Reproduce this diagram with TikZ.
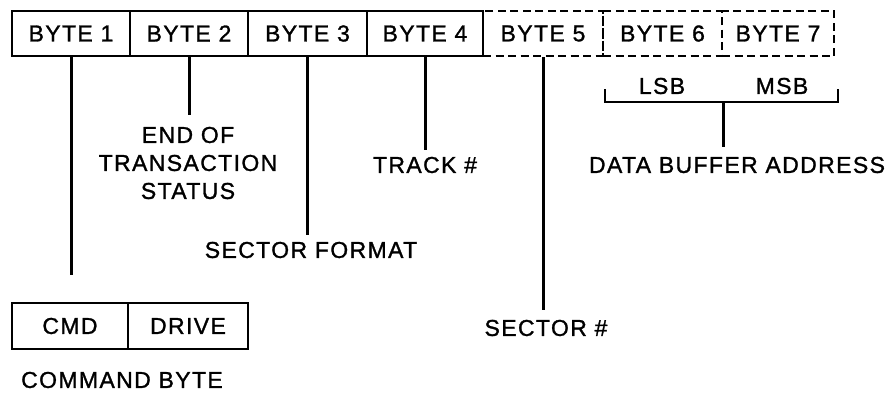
\documentclass[tikz,border=0pt]{standalone}
\usepackage{fontspec}
\setmainfont{Liberation Sans}[LetterSpace=6,FakeBold=1.2]
\begin{document}
\begin{tikzpicture}[x=1pt,y=-1pt,
  lbl/.style={font=\fontsize{23}{28}\selectfont, inner sep=0pt, align=center},
  cell/.style={lbl, draw, line width=2.6pt, minimum height=45pt, rectangle},
  dcell/.style={cell, dash pattern=on 8pt off 4.5pt},
  ln/.style={line width=3pt},
  bx/.style={line width=2.6pt}]
\useasboundingbox (0,0) rectangle (889,400);
% top row
\node[dcell, minimum width=120pt] (b5) at (543,33.5) {BYTE 5};
\node[dcell, minimum width=119pt] (b6) at (662.5,33.5) {BYTE 6};
\node[dcell, minimum width=112pt] (b7) at (778,33.5) {BYTE 7};
\node[cell, minimum width=118pt] (b1) at (71,33.5) {BYTE 1};
\node[cell, minimum width=118pt] (b2) at (189,33.5) {BYTE 2};
\node[cell, minimum width=119pt] (b3) at (307.5,33.5) {BYTE 3};
\node[cell, minimum width=116pt] (b4) at (425,33.5) {BYTE 4};
% labels
\node[lbl] (lsb) at (662,86) {LSB};
\node[lbl] (msb) at (782,86) {MSB};
\node[lbl] (eot) at (188,163) {END OF\\TRANSACTION\\STATUS};
\node[lbl] (trk) at (425,165) {TRACK \#};
\node[lbl] (dba) at (737,165) {DATA BUFFER ADDRESS};
\node[lbl] (sfm) at (311,250) {SECTOR FORMAT};
\node[lbl] (sec) at (546,328) {SECTOR \#};
% command byte
\node[cell, minimum width=116pt, minimum height=46pt] (cmd) at (70,326) {CMD};
\node[cell, minimum width=120pt, minimum height=46pt] (drv) at (188,326) {DRIVE};
\node[lbl] (cbt) at (122,380) {COMMAND BYTE};
% stem ends
\coordinate (e1) at (71,275);
\coordinate (e2) at (189,115);
\coordinate (e3) at (307.5,235);
\coordinate (e4) at (425,150);
\coordinate (e5) at (543,310);
\coordinate (bl) at (605,89);
\coordinate (br) at (838,89);
\coordinate (bm) at (723,102);
\coordinate (e6) at (723,147);
\draw[ln] (b1.south) -- (e1);
\draw[ln] (b2.south) -- (e2);
\draw[ln] (b3.south) -- (e3);
\draw[ln] (b4.south) -- (e4);
\draw[ln] (b5.south) -- (e5);
\draw[bx] (bl) -- (bl |- bm) -- (br |- bm) -- (br);
\draw[ln] (bm) -- (e6);
\end{tikzpicture}
\end{document}
